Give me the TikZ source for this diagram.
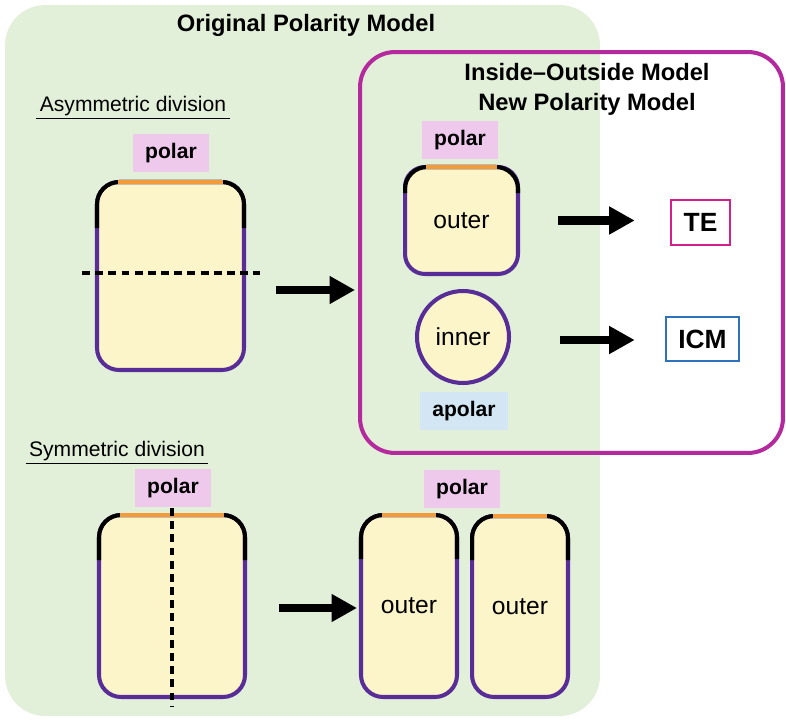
\documentclass[tikz,border=0pt]{standalone}
\usepackage{fontspec}
\setmainfont{Liberation Sans}
\usetikzlibrary{positioning}
\usetikzlibrary{arrows.meta}

\definecolor{bggreen}{RGB}{226,239,217}
\definecolor{cellyellow}{RGB}{251,245,201}
\definecolor{cellpurple}{RGB}{88,45,152}
\definecolor{cellorange}{RGB}{243,154,58}
\definecolor{polarpink}{RGB}{238,201,236}
\definecolor{apolarblue}{RGB}{210,230,244}
\definecolor{iomagenta}{RGB}{181,41,158}
\definecolor{tepink}{RGB}{212,32,140}
\definecolor{icmblue}{RGB}{45,114,187}

% black corners and orange apical edge on top of a cell
\newcommand{\polartop}[2]{%
  \draw[line width=2.3pt, rounded corners=0.44cm] ([yshift=-#2]#1.north west) -- (#1.north west) -- (#1.north east) -- ([yshift=-#2]#1.north east);
  \draw[line width=2.3pt, cellorange] ([xshift=0.42cm]#1.north west) -- ([xshift=-0.42cm]#1.north east);
}

\begin{document}
\begin{tikzpicture}[x=0.02cm, y=-0.02cm,
       cell/.style={rectangle, draw=cellpurple, fill=cellyellow, line width=2.3pt,
                    rounded corners=0.44cm, outer sep=0pt, inner sep=0pt,
                    font=\fontsize{14}{16}\selectfont},
       tag/.style={rectangle, inner sep=0pt, minimum width=1.52cm, minimum height=0.76cm,
                   font=\bfseries\fontsize{12}{14}\selectfont},
       fate/.style={rectangle, line width=1.5pt, fill=white, inner sep=0pt,
                    minimum height=0.9cm, font=\bfseries\fontsize{15}{18}\selectfont},
       heading/.style={font=\bfseries\fontsize{13.5}{17}\selectfont, align=center},
       division/.style={font=\fontsize{12}{14}\selectfont},
       bigarrow/.style={line width=4.6pt, -{Triangle[length=14.5pt, width=15pt]}},
       cut/.style={line width=2.3pt, dash pattern=on 4.5pt off 3pt}]
  \useasboundingbox (0,0) rectangle (786,719);

  % background boxes
  \node[rectangle, fill=bggreen, rounded corners=0.8cm, minimum width=11.9cm,
        minimum height=14.22cm] (orig) at (302.5,360.5) {};
  \node[heading] (origtitle) at (306,25) {Original Polarity Model};

  \node[rectangle, draw=iomagenta, line width=2.3pt, rounded corners=0.7cm, outer sep=0pt,
        minimum width=8.46cm, minimum height=8.02cm] (io) at (571.5,252.5) {};
  \node[heading] (iotitle) at (587,89) {Inside–Outside Model\\New Polarity Model};

  % asymmetric division
  \node[division] (asymlabel) at (133,108) {\underline{\,Asymmetric division\,}};
  \node[tag, fill=polarpink] (polar1) at (171,153) {polar};
  \node[cell, minimum width=2.94cm, minimum height=3.76cm] (asym) at (170.5,276) {};
  \polartop{asym}{0.92cm}
  \draw[cut] ([xshift=-0.3cm,yshift=0.06cm]asym.west) -- ([xshift=0.32cm,yshift=0.06cm]asym.east);
  \coordinate (a1) at (276,290);
  \draw[bigarrow, shorten >=0.1cm] (a1) -- (a1 -| io.west);

  % inside-outside
  \node[tag, fill=polarpink] (polar2) at (460,140) {polar};
  \node[cell, rounded corners=0.4cm, minimum width=2.26cm, minimum height=2.14cm] (outer) at (461.5,220.5) {outer};
  \polartop{outer}{0.52cm}
  \node[circle, draw=cellpurple, fill=cellyellow, line width=2.3pt, minimum size=1.84cm,
        inner sep=0pt, font=\fontsize{14}{16}\selectfont] (inner) at (463,337) {inner};
  \node[tag, fill=apolarblue, minimum width=1.76cm] (apolar) at (464,411) {apolar};

  \node[fate, draw=tepink, minimum width=1.18cm] (te) at (700.5,222.5) {TE};
  \node[fate, draw=icmblue, minimum width=1.46cm, minimum height=0.88cm] (icm) at (702.5,339) {ICM};
  \draw[bigarrow, shorten <=0.8cm, shorten >=0.7cm] (outer.east) -- (outer.east -| te.west);
  \draw[bigarrow, shorten <=0.98cm, shorten >=0.6cm] ([yshift=-0.06cm]inner.east) -- ([yshift=-0.06cm]inner.east -| icm.west);

  % symmetric division
  \node[division] (symlabel) at (117,453) {\underline{\,Symmetric division\,}};
  \node[tag, fill=polarpink] (polar3) at (173,488) {polar};
  \node[cell, minimum width=2.92cm, minimum height=3.64cm] (sym) at (172,606) {};
  \polartop{sym}{0.9cm}
  \draw[cut] ([yshift=0.14cm]sym.north) -- ([yshift=-0.2cm]sym.south);

  \node[tag, fill=polarpink] (polar4) at (462,489) {polar};
  \node[cell, minimum width=1.92cm, minimum height=3.64cm] (outerA) at (409,606) {outer};
  \polartop{outerA}{0.88cm}
  \node[cell, minimum width=1.92cm, minimum height=3.62cm] (outerB) at (520,606.5) {outer};
  \polartop{outerB}{0.88cm}
  \draw[bigarrow, shorten <=0.68cm, shorten >=0.08cm] ([yshift=-0.04cm]sym.east) -- ([yshift=-0.04cm]sym.east -| outerA.west);
\end{tikzpicture}
\end{document}
